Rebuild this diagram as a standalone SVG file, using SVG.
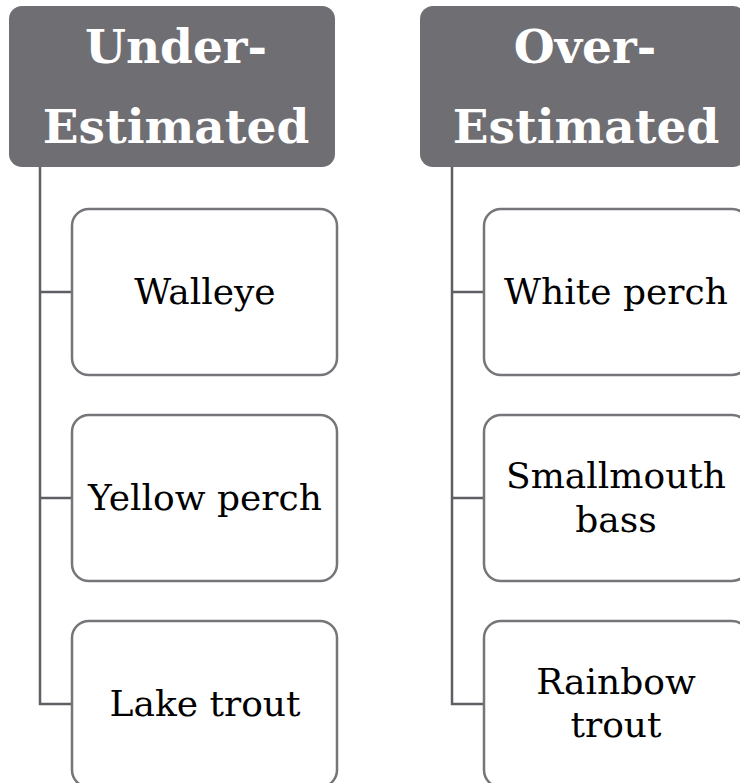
<svg xmlns="http://www.w3.org/2000/svg" width="740" height="783" viewBox="0 0 740 783">
<style>
.hdr{fill:#6f6e73}
.hdr-t{font-family:"DejaVu Serif","Liberation Serif",serif;font-weight:bold;font-size:47px;fill:#ffffff;text-anchor:middle}
.box{fill:#ffffff;stroke:#76757a;stroke-width:2.5}
.box-t{font-family:"DejaVu Serif","Liberation Serif",serif;font-size:36px;fill:#000000;text-anchor:middle}
.conn{fill:none;stroke:#5f5e63;stroke-width:2.5}
</style>
<rect width="740" height="783" fill="#ffffff"/>
<g id="connectors">
<path class="conn" d="M40,167 V704 H72 M40,292 H72 M40,498 H72"/>
<path class="conn" d="M452,167 V704 H484 M452,292 H484 M452,498 H484"/>
</g>
<g id="under">
<rect class="hdr" x="9" y="6" width="326" height="161" rx="13"/>
<text class="hdr-t" x="176" y="63">Under-</text>
<text class="hdr-t" x="176" y="143">Estimated</text>
</g>
<g id="over">
<rect class="hdr" x="420" y="6" width="326" height="161" rx="13"/>
<text class="hdr-t" x="585" y="63">Over-</text>
<text class="hdr-t" x="586" y="143">Estimated</text>
</g>
<g id="walleye">
<rect class="box" x="72" y="209" width="265" height="166" rx="17"/>
<text class="box-t" x="205" y="304">Walleye</text>
</g>
<g id="yellow-perch">
<rect class="box" x="72" y="415" width="265" height="166" rx="17"/>
<text class="box-t" x="205" y="510">Yellow perch</text>
</g>
<g id="lake-trout">
<rect class="box" x="72" y="621" width="265" height="166" rx="17"/>
<text class="box-t" x="205" y="716">Lake trout</text>
</g>
<g id="white-perch">
<rect class="box" x="484" y="209" width="265" height="166" rx="17"/>
<text class="box-t" x="616" y="304">White perch</text>
</g>
<g id="smallmouth-bass">
<rect class="box" x="484" y="415" width="265" height="166" rx="17"/>
<text class="box-t" x="616" y="488">Smallmouth</text>
<text class="box-t" x="616" y="532">bass</text>
</g>
<g id="rainbow-trout">
<rect class="box" x="484" y="621" width="265" height="166" rx="17"/>
<text class="box-t" x="616" y="694">Rainbow</text>
<text class="box-t" x="616" y="737">trout</text>
</g>
</svg>
